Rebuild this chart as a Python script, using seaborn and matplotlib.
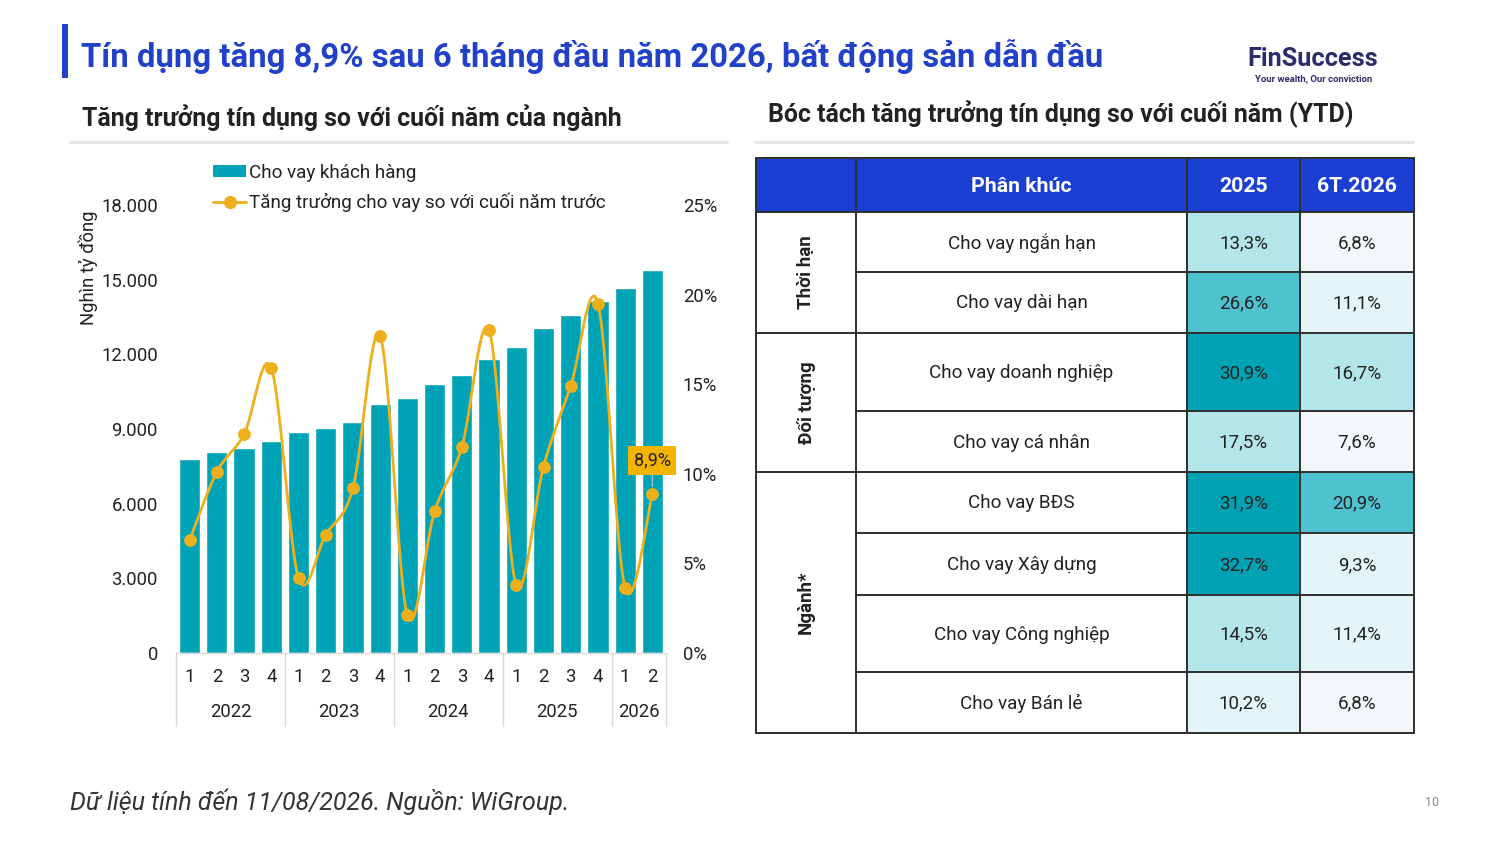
import numpy as np
import pandas as pd
import matplotlib
matplotlib.use("Agg")
import matplotlib.pyplot as plt
import seaborn as sns
from matplotlib.patches import Rectangle, Patch
from matplotlib.lines import Line2D
from matplotlib.ticker import FuncFormatter, FixedLocator

# ---------------- data ----------------
years = ["2022", "2022", "2022", "2022", "2023", "2023", "2023", "2023",
         "2024", "2024", "2024", "2024", "2025", "2025", "2025", "2025",
         "2026", "2026"]
quarters = ["1", "2", "3", "4", "1", "2", "3", "4", "1", "2", "3", "4",
            "1", "2", "3", "4", "1", "2"]
loans = [7800, 8090, 8230, 8520, 8870, 9060, 9290, 10000, 10230, 10820,
         11160, 11820, 12280, 13040, 13600, 14150, 14660, 15400]
growth = [6.3, 10.1, 12.2, 15.9, 4.2, 6.6, 9.2, 17.7, 2.1, 7.9, 11.5, 18.0,
          3.8, 10.4, 14.9, 19.5, 3.6, 8.9]
left_ticks = [0, 3000, 6000, 9000, 12000, 15000, 18000]
right_ticks = [0, 5, 10, 15, 20, 25]

segments = ["Cho vay ngắn hạn", "Cho vay dài hạn", "Cho vay doanh nghiệp",
            "Cho vay cá nhân", "Cho vay BĐS", "Cho vay Xây dựng",
            "Cho vay Công nghiệp", "Cho vay Bán lẻ"]
ytd_2025 = [13.3, 26.6, 30.9, 17.5, 31.9, 32.7, 14.5, 10.2]
ytd_6t2026 = [6.8, 11.1, 16.7, 7.6, 20.9, 9.3, 11.4, 6.8]
group_names = ["Thời hạn", "Đối tượng", "Ngành*"]
group_sizes = [2, 2, 4]
table_header = ["Phân khúc", "2025", "6T.2026"]

title = "Tín dụng tăng 8,9% sau 6 tháng đầu năm 2026, bất động sản dẫn đầu"
left_sub = "Tăng trưởng tín dụng so với cuối năm của ngành"
right_sub = "Bóc tách tăng trưởng tín dụng so với cuối năm (YTD)"
footnote = "Dữ liệu tính đến 11/08/2026. Nguồn: WiGroup."
legend_bar = "Cho vay khách hàng"
legend_line = "Tăng trưởng cho vay so với cuối năm trước"
ylabel = "Nghìn tỷ đồng"

# ---------------- style ----------------
sns.set_theme(style="white")
plt.rcParams["font.family"] = ["Roboto", "DejaVu Sans"]

BAR = "#00A3B5"
LINE = "#EDB01C"
BLUE = "#2141C9"
HEAD = "#1B3FD3"
TXT = "#222222"
W, H = 1500, 844

fig = plt.figure(figsize=(15, 8.44), dpi=100)
fig.patch.set_facecolor("white")

def fx(px):
    return px / W

def fy(py):
    return 1 - py / H

# ---------------- chart ----------------
ax = fig.add_axes([fx(176), fy(653), fx(666) - fx(176), fy(205) - fy(653)])
df = pd.DataFrame({"period": [f"{y}-{q}" for y, q in zip(years, quarters)],
                   "loan": loans})
sns.barplot(data=df, x="period", y="loan", color=BAR, saturation=1,
            width=0.78, ax=ax, zorder=2)
ax.set_xlim(-0.5, len(loans) - 0.5)
ax.set_ylim(0, 18000)
ax.yaxis.set_major_locator(FixedLocator(left_ticks))
ax.yaxis.set_major_formatter(FuncFormatter(lambda v, p: f"{int(v):,}".replace(",", ".")))
ax.set_xticks(range(len(quarters)))
ax.set_xticklabels(quarters)
ax.tick_params(axis="x", length=0, pad=11, labelsize=13.3, labelcolor=TXT)
ax.tick_params(axis="y", length=0, pad=13, labelsize=13.3, labelcolor=TXT)
ax.set_xlabel("")
ax.set_ylabel(ylabel, fontsize=13.3, color=TXT)
ax.yaxis.set_label_coords(-0.16, 0.86)
for s in ["top", "right", "left"]:
    ax.spines[s].set_visible(False)
ax.spines["bottom"].set_color("#D9D9D9")
ax.spines["bottom"].set_linewidth(1)

# two-level category axis
trans = matplotlib.transforms.blended_transform_factory(ax.transData, ax.transAxes)
uniq_years = list(dict.fromkeys(years))
idx = np.arange(len(years))
bounds = [-0.5]
for yv in uniq_years:
    pos = idx[[y == yv for y in years]]
    ax.text(pos.mean(), -0.132, yv, transform=trans, ha="center", va="center",
            fontsize=13.3, color=TXT)
    bounds.append(pos.max() + 0.5)
for b in bounds:
    ax.plot([b, b], [0, -0.162], transform=trans, color="#D9D9D9", lw=1,
            clip_on=False)

# line on secondary axis (smoothed like the spreadsheet chart)
ax2 = ax.twinx()
ax2.set_ylim(0, 25)
ax2.yaxis.set_major_locator(FixedLocator(right_ticks))
ax2.yaxis.set_major_formatter(FuncFormatter(lambda v, p: f"{int(v)}%"))
ax2.tick_params(axis="y", length=0, pad=12, labelsize=13.3, labelcolor=TXT)
for s in ax2.spines.values():
    s.set_visible(False)

P = np.column_stack([idx.astype(float), np.array(growth, dtype=float)])
curve = []
t = np.linspace(0, 1, 30)
for i in range(len(P) - 1):
    p0 = P[i - 1] if i > 0 else P[i]
    p1, p2 = P[i], P[i + 1]
    p3 = P[i + 2] if i + 2 < len(P) else P[i + 1]
    c1 = p1 + (p2 - p0) / 6
    c2 = p2 - (p3 - p1) / 6
    seg = ((1 - t) ** 3)[:, None] * p1 + (3 * (1 - t) ** 2 * t)[:, None] * c1 \
        + (3 * (1 - t) * t ** 2)[:, None] * c2 + (t ** 3)[:, None] * p2
    curve.append(seg if i == 0 else seg[1:])
curve = np.vstack(curve)
ax2.plot(curve[:, 0], curve[:, 1], color=LINE, lw=2, zorder=3)
sns.scatterplot(x=idx, y=growth, ax=ax2, color=LINE, s=85, edgecolor=LINE,
                linewidth=0, zorder=4, legend=False)

last = len(growth) - 1
ax2.annotate(f"{growth[last]:.1f}%".replace(".", ","), xy=(idx[last], growth[last]),
             xytext=(0, 24), textcoords="offset points", ha="center", va="center",
             fontsize=13, color=TXT,
             bbox=dict(boxstyle="square,pad=0.3", fc="#F3B301", ec="none"),
             arrowprops=dict(arrowstyle="-", color="#9FBFD0", lw=1,
                             shrinkA=0, shrinkB=5))

handles = [Patch(facecolor=BAR, edgecolor="none"),
           Line2D([0], [0], color=LINE, lw=2, marker="o", markersize=8.5)]
fig.legend(handles, [legend_bar, legend_line], loc="upper left",
           bbox_to_anchor=(fx(196), fy(147)), frameon=False, fontsize=13.6,
           handlelength=1.75, handleheight=0.6, handletextpad=0.15,
           labelspacing=0.55, labelcolor=TXT)

# ---------------- overlay (titles, table, logo) ----------------
ov = fig.add_axes([0, 0, 1, 1], zorder=5)
ov.set_xlim(0, W)
ov.set_ylim(H, 0)
ov.axis("off")
ov.patch.set_alpha(0)

ov.add_patch(Rectangle((62, 24), 6, 54, color=BLUE, lw=0))
ov.text(81, 56, title, fontsize=23.7, fontweight="bold", color=BLUE,
        va="center", ha="left")
ov.text(82, 118, left_sub, fontsize=17.9, fontweight="bold", color=TXT,
        va="center", ha="left")
ov.text(768, 114, right_sub, fontsize=17.9, fontweight="bold", color=TXT,
        va="center", ha="left")
ov.plot([70, 727], [142, 142], color="#E3E3E3", lw=2)
ov.plot([755, 1413], [142, 142], color="#E3E3E3", lw=2)
ov.text(70, 802, footnote, fontsize=18, style="italic", color="#333333",
        va="center", ha="left")
ov.text(1432, 803, "10", fontsize=9, color="#8A8A8A", va="center", ha="center")

# logo
ov.text(1313, 59, "FinSuccess", fontsize=18.2, fontweight="bold", color="#2B2C6C",
        va="center", ha="center")
ov.text(1314, 79, "Your wealth, Our conviction", fontsize=6.8, fontweight="bold",
        color="#2B2C6C", va="center", ha="center")

# table
col_x = [756, 856, 1187, 1300, 1414]
row_y = [158, 212, 272, 333, 411, 472, 533, 595, 672, 733]
EDGE = "#2E2E2E"

def shade(v):
    if v < 8:
        return "#F4F7F9"
    if v < 12:
        return "#E3F5F7"
    if v < 19:
        return "#B4E5EA"
    if v < 29:
        return "#4EC2CF"
    return "#00A2B3"

ov.add_patch(Rectangle((col_x[0], row_y[0]), col_x[-1] - col_x[0],
                       row_y[1] - row_y[0], fc=HEAD, ec="none"))
for j, htxt in enumerate(table_header):
    cx = (col_x[j + 1] + col_x[j + 2]) / 2
    ov.text(cx, (row_y[0] + row_y[1]) / 2 + 1, htxt, fontsize=15.3, fontweight="bold",
            color="white", ha="center", va="center")

for i, seg in enumerate(segments):
    y0, y1 = row_y[i + 1], row_y[i + 2]
    cy = (y0 + y1) / 2 + 1
    for j, vals in enumerate([ytd_2025, ytd_6t2026]):
        x0, x1 = col_x[2 + j], col_x[3 + j]
        ov.add_patch(Rectangle((x0, y0), x1 - x0, y1 - y0, fc=shade(vals[i]),
                               ec="none"))
        ov.text((x0 + x1) / 2, cy, f"{vals[i]:.1f}%".replace(".", ","),
                fontsize=13.5, color=TXT, ha="center", va="center")
    ov.text((col_x[1] + col_x[2]) / 2, cy, seg, fontsize=13.6, color=TXT,
            ha="center", va="center")

# grid lines
for x in col_x:
    ov.plot([x, x], [row_y[0], row_y[-1]], color=EDGE, lw=1.4)
ov.plot([col_x[0], col_x[-1]], [row_y[0], row_y[0]], color=EDGE, lw=1.4)
ov.plot([col_x[0], col_x[-1]], [row_y[1], row_y[1]], color=EDGE, lw=1.4)
r = 1
for g, n in zip(group_names, group_sizes):
    ya, yb = row_y[r], row_y[r + n]
    ov.text((col_x[0] + col_x[1]) / 2, (ya + yb) / 2, g, rotation=90,
            fontsize=13.5, fontweight="bold", color=TXT, ha="center", va="center")
    ov.plot([col_x[0], col_x[-1]], [yb, yb], color=EDGE, lw=1.4)
    for k in range(1, n):
        yk = row_y[r + k]
        ov.plot([col_x[1], col_x[-1]], [yk, yk], color=EDGE, lw=1.4)
    r += n

fig.savefig("out.png", dpi=100, facecolor="white")
